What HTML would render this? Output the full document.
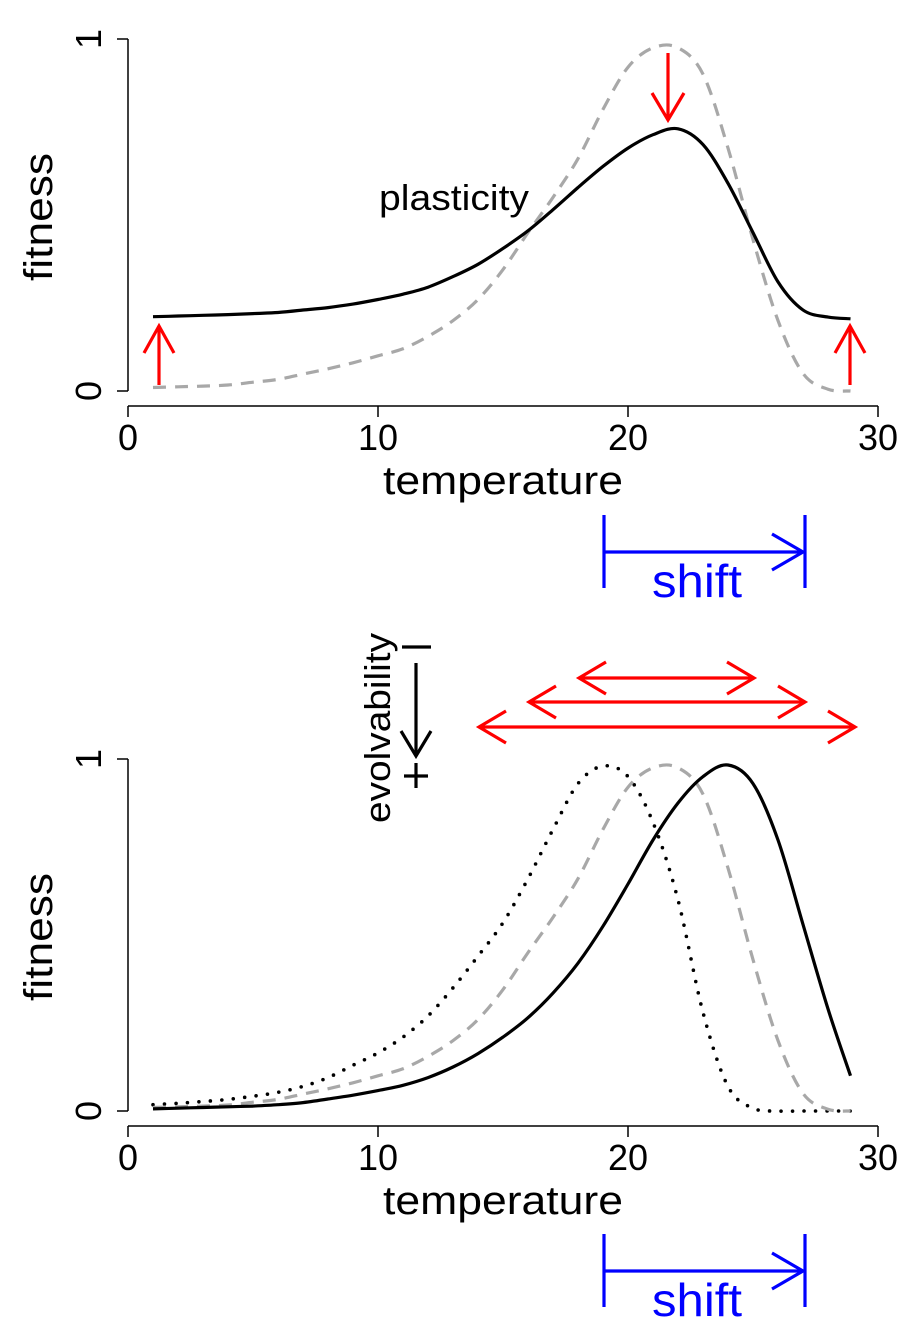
<!DOCTYPE html>
<html><head><meta charset="utf-8">
<style>
html,body{margin:0;padding:0;background:#fff;}
svg{display:block;font-family:"Liberation Sans",Arial,sans-serif;}
</style></head>
<body>
<svg id="fig" width="920" height="1340" viewBox="0 0 920 1340" xmlns="http://www.w3.org/2000/svg">
<g id="top"></g>
<g id="bot"></g>
<g id="anno">
  <g stroke="#ff0000" stroke-width="3.2" fill="none">
    <line x1="159" y1="385" x2="159" y2="326"/><polyline points="144,353 159,326 174,353"/>
  </g>
  <g stroke="#ff0000" stroke-width="3.2" fill="none">
    <line x1="850" y1="385" x2="850" y2="326"/><polyline points="835,353 850,326 865,353"/>
  </g>
  <g stroke="#ff0000" stroke-width="3.2" fill="none">
    <line x1="668" y1="53" x2="668" y2="120"/><polyline points="652,93 668,120 684,93"/>
  </g>
  <text x="454" y="210" font-size="36" text-anchor="middle" textLength="150" lengthAdjust="spacingAndGlyphs">plasticity</text>

  <g stroke="#0000ff" stroke-width="3.2" fill="none">
    <line x1="604" y1="515" x2="604" y2="588"/><line x1="805" y1="515" x2="805" y2="588"/>
    <line x1="604" y1="552" x2="803" y2="552"/><polyline points="772,534 803,552 772,570"/>
  </g>
  <text x="697" y="597" font-size="46" fill="#0000ff" text-anchor="middle" textLength="90" lengthAdjust="spacingAndGlyphs">shift</text>

  <text transform="translate(390,728) rotate(-90)" font-size="36" text-anchor="middle" textLength="190" lengthAdjust="spacingAndGlyphs">evolvability</text>
  <g stroke="#000" stroke-width="3.2" fill="none">
    <line x1="402" y1="647" x2="431" y2="647"/>
    <line x1="416" y1="663" x2="416" y2="756"/><polyline points="401,731 416,756 431,731"/>
    <line x1="416" y1="763" x2="416" y2="788"/><line x1="404" y1="776" x2="428" y2="776"/>
  </g>
  <g stroke="#ff0000" stroke-width="3.2" fill="none">
    <line x1="579" y1="678" x2="754" y2="678"/><polyline points="606,662 579,678 606,694"/><polyline points="727,662 754,678 727,694"/>
    <line x1="529" y1="702" x2="805" y2="702"/><polyline points="556,686 529,702 556,718"/><polyline points="778,686 805,702 778,718"/>
    <line x1="479" y1="727" x2="855" y2="727"/><polyline points="506,711 479,727 506,743"/><polyline points="828,711 855,727 828,743"/>
  </g>

  <g stroke="#0000ff" stroke-width="3.2" fill="none">
    <line x1="604" y1="1234" x2="604" y2="1307"/><line x1="805" y1="1234" x2="805" y2="1307"/>
    <line x1="604" y1="1271" x2="803" y2="1271"/><polyline points="772,1253 803,1271 772,1289"/>
  </g>
  <text x="697" y="1316" font-size="46" fill="#0000ff" text-anchor="middle" textLength="90" lengthAdjust="spacingAndGlyphs">shift</text>
</g>
</svg>
<script>
const temps = [1,2,3,4,5,6,7,8,9,10,11,12,13,14,15,16,17,18,19,20,21,22,23,24,25,26,27,28,28.9];
const baselineFitness = [0.01,0.012,0.014,0.017,0.025,0.033,0.048,0.063,0.08,0.1,0.12,0.155,0.2,0.26,0.345,0.45,0.55,0.66,0.8,0.92,0.975,0.975,0.9,0.69,0.43,0.2,0.05,0.005,0.0];
const plasticFitness = [0.211,0.213,0.215,0.217,0.22,0.223,0.23,0.237,0.247,0.26,0.275,0.295,0.325,0.36,0.405,0.455,0.515,0.578,0.638,0.69,0.728,0.745,0.7,0.59,0.45,0.31,0.23,0.21,0.205];
const shiftedFitness = [0.006,0.008,0.01,0.012,0.014,0.018,0.024,0.034,0.045,0.058,0.073,0.095,0.125,0.163,0.21,0.265,0.335,0.42,0.525,0.645,0.77,0.875,0.95,0.983,0.93,0.77,0.53,0.29,0.1];
const laggedFitness = [0.018,0.022,0.027,0.033,0.042,0.053,0.07,0.095,0.13,0.165,0.21,0.27,0.35,0.44,0.535,0.66,0.8,0.93,0.98,0.95,0.82,0.6,0.28,0.07,0.008,0,0,0,0];
const xTicks = [0,10,20,30];
const yTicks = [0,1];
const xTickLabels = ["0","10","20","30"];
const yTickLabels = ["0","1"];

const NS = "http://www.w3.org/2000/svg";
function mk(tag, attrs, parent){
  const e = document.createElementNS(NS, tag);
  for (const k in attrs) e.setAttribute(k, attrs[k]);
  parent.appendChild(e);
  return e;
}
function smoothPath(pts){
  let d = "M" + pts[0][0].toFixed(1) + "," + pts[0][1].toFixed(1);
  for (let i=0;i<pts.length-1;i++){
    const p0 = pts[Math.max(0,i-1)], p1 = pts[i], p2 = pts[i+1], p3 = pts[Math.min(pts.length-1,i+2)];
    const c1x = p1[0]+(p2[0]-p0[0])/6, c1y = p1[1]+(p2[1]-p0[1])/6;
    const c2x = p2[0]-(p3[0]-p1[0])/6, c2y = p2[1]-(p3[1]-p1[1])/6;
    d += " C"+c1x.toFixed(1)+","+c1y.toFixed(1)+" "+c2x.toFixed(1)+","+c2y.toFixed(1)+" "+p2[0].toFixed(1)+","+p2[1].toFixed(1);
  }
  return d;
}
function panel(g, y0px, y1px, xAxisY, series){
  const xs = t => 128 + t*25;
  const ys = v => y0px + (y1px - y0px)*v;
  const ya = mk("line",{x1:128,y1:ys(1),x2:128,y2:ys(0),stroke:"#000","stroke-width":1.5},g);
  
  
  yTicks.forEach((v,i)=>{
    const tk = mk("line",{x1:117,y1:ys(v),x2:128,y2:ys(v),stroke:"#000","stroke-width":1.5},g);
    
    
    const tl = mk("text",{transform:"translate(101,"+ys(v)+") rotate(-90)","font-size":36,"text-anchor":"middle"},g);
    
    
    tl.textContent = yTickLabels[i];
  });
  const yt = mk("text",{transform:"translate(52,"+(ys(0.5)+2)+") rotate(-90)","font-size":40,"text-anchor":"middle",textLength:128,lengthAdjust:"spacingAndGlyphs"},g);
  
  
  yt.textContent = "fitness";
  const xa = mk("line",{x1:xs(0),y1:xAxisY,x2:xs(30),y2:xAxisY,stroke:"#000","stroke-width":1.5},g);
  
  
  xTicks.forEach((t,i)=>{
    const tk = mk("line",{x1:xs(t),y1:xAxisY,x2:xs(t),y2:xAxisY+11,stroke:"#000","stroke-width":1.5},g);
    
    
    const tl = mk("text",{x:xs(t),y:xAxisY+44,"font-size":36,"text-anchor":"middle"},g);
    
    
    tl.textContent = xTickLabels[i];
  });
  const xt = mk("text",{x:503,y:xAxisY+88,"font-size":40,"text-anchor":"middle",textLength:240,lengthAdjust:"spacingAndGlyphs"},g);
  
  
  xt.textContent = "temperature";
  series.forEach(s=>{
    const pts = temps.map((t,i)=>[xs(t), ys(s.vals[i])]);
    const p = mk("path",Object.assign({d:smoothPath(pts),fill:"none"},s.style),g);
    
    
  });
}
const dashed = {stroke:"#a8a8a8","stroke-width":3.2,"stroke-dasharray":"13 9"};
const solid = {stroke:"#000","stroke-width":3.2,"stroke-linejoin":"round"};
const dotted = {stroke:"#000","stroke-width":3.6,"stroke-dasharray":"0 11.5","stroke-linecap":"round"};
panel(document.getElementById("top"), 391, 39, 406, [
  {name:"baseline-curve-top", vals:baselineFitness, style:dashed},
  {name:"plasticity-curve", vals:plasticFitness, style:solid}
]);
panel(document.getElementById("bot"), 1111, 759, 1126, [
  {name:"lagged-curve", vals:laggedFitness, style:dotted},
  {name:"baseline-curve-bottom", vals:baselineFitness, style:dashed},
  {name:"shifted-curve", vals:shiftedFitness, style:solid}
]);
</script>
</body></html>
